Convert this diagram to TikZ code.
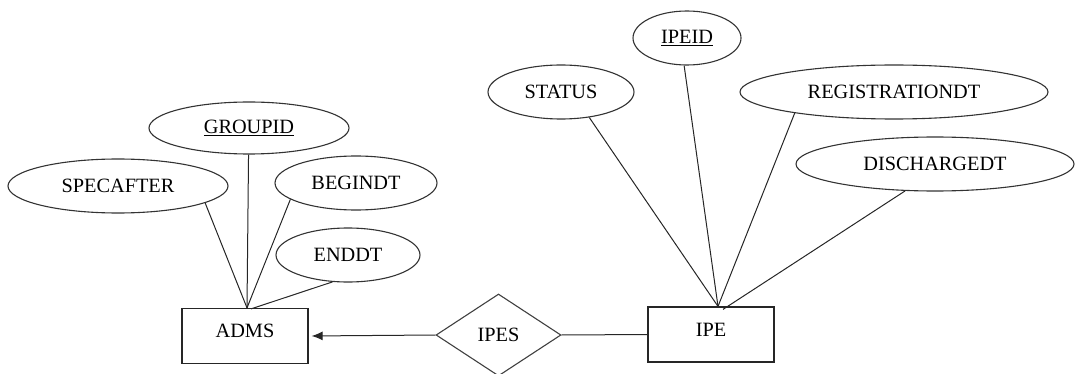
\documentclass[tikz,border=0pt]{standalone}
\usepackage{fontspec}
\setmainfont{Liberation Serif}
\usetikzlibrary{shapes.geometric,arrows.meta}
\tikzset{
  lbl/.style={font=\fontsize{20.3}{23}\selectfont, text=black},
  attr/.style={lbl, ellipse, draw=black!80, line width=1.1pt, inner sep=0pt,
    minimum height=54pt},
  entity/.style={lbl, rectangle, draw=black!85, line width=1.2pt, inner sep=0pt,
    minimum width=126pt, minimum height=55pt, text depth=10pt},
  rel/.style={lbl, diamond, draw=black!75, line width=1.1pt, inner sep=0pt,
    shape aspect=1.5, minimum width=125pt, minimum height=82pt},
  link/.style={draw=black!85, line width=1pt},
}
\begin{document}
\begin{tikzpicture}[x=1pt, y=-1pt]
\useasboundingbox (0,0) rectangle (1075,374);

% ADMS entity and its attributes
\node[entity] (adms) at (245,336) {ADMS};
\node[attr, minimum width=200pt, minimum height=52pt] (groupid) at (249,128) {\underline{GROUPID}};
\node[attr, minimum width=220pt] (specafter) at (118,186) {SPECAFTER};
\node[attr, minimum width=162pt] (begindt) at (356,183) {BEGINDT};
\node[attr, minimum width=144pt] (enddt) at (348,255) {ENDDT};

% IPE entity and its attributes
\node[entity] (ipe) at (711,334.5) {IPE};
\node[attr, minimum width=108pt] (ipeid) at (687,38) {\underline{IPEID}};
\node[attr, minimum width=146pt] (status) at (561,92) {STATUS};
\node[attr, minimum width=308pt] (regdt) at (894,92) {REGISTRATIONDT};
\node[attr, minimum width=278pt] (disdt) at (935,164) {DISCHARGEDT};

% relationship
\node[rel] (ipes) at (498.5,335) {IPES};

% meeting points of the attribute lines on the entity tops
\coordinate (admstop) at ([xshift=2pt]adms.north);
\coordinate (ipetop) at ([xshift=7pt]ipe.north);

\draw[link] (specafter.-11.7) -- (admstop);
\draw[link] (groupid.-91) -- (admstop);
\draw[link] (begindt.-166) -- (admstop);
\draw[link] (enddt.-120.6) -- ([xshift=4pt,yshift=-1pt]admstop);

\draw[link] (status.-42) -- (ipetop);
\draw[link] (ipeid.-96) -- (ipetop);
\draw[link] (regdt.-168) -- (ipetop);
\draw[link] (disdt.-138.8) -- ([xshift=5pt,yshift=-3pt]ipetop);

\draw[link, -{Latex[length=11pt,width=9pt]}, shorten >=3pt] (ipes.west) -- (adms.east);
\draw[link] (ipes.east) -- (ipe.west);
\end{tikzpicture}
\end{document}
